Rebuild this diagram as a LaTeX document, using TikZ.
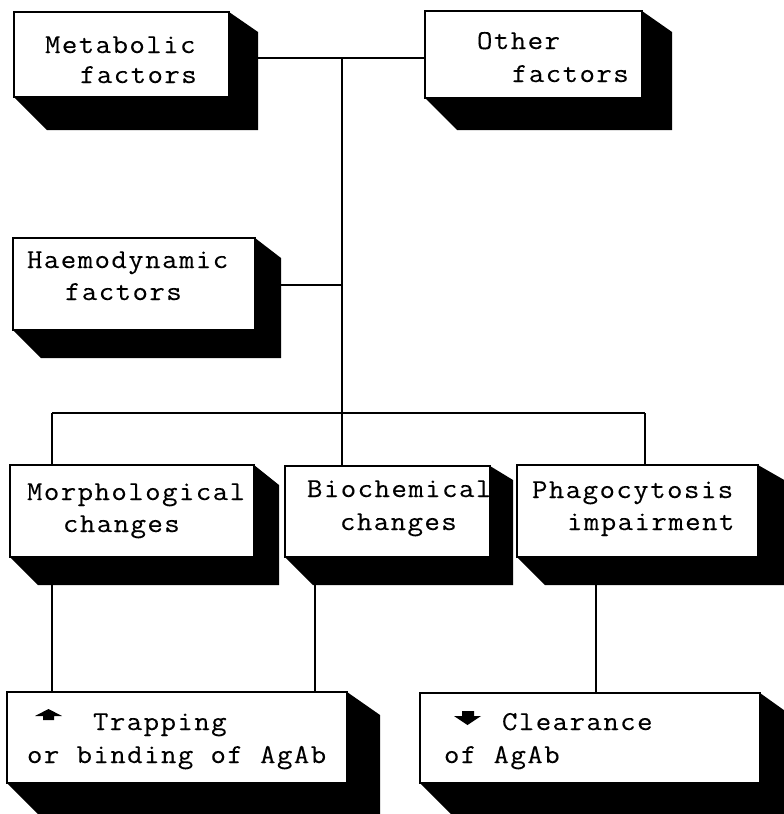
\documentclass[tikz,border=0pt]{standalone}
\usepackage{fontspec}
\setmonofont[FakeStretch=1.1,LetterSpace=5.2,FakeBold=0.2]{Latin Modern Mono}
\usetikzlibrary{calc,backgrounds}
\tikzset{
  fbox/.style={draw=black, fill=white, line width=2.4pt, anchor=north west, inner sep=0pt, outer sep=0pt},
  txt/.style={anchor=base west, inner sep=0pt, outer sep=0pt, font=\ttfamily\fontsize{27.3}{31}\selectfont},
  conn/.style={draw=black, line width=1.7pt},
  shade3d/.style={fill=black}
}
\newcommand\fbx[5]{\node[fbox, minimum width=#4pt, minimum height=#5pt] (#1) at (#2,#3) {};}
\newcommand\shd[4]{\fill[shade3d] (#1.south west) -- ++(#3,#3) -- ($(#1.south east)+(#2,#3)$) -- ($(#1.north east)+(#2,#4)$) -- (#1.north east) -- cycle;}
\newcommand\tsp{\hspace*{17.2pt}}
\begin{document}
\begin{tikzpicture}[x=1pt,y=-1pt]
\useasboundingbox (0,0) rectangle (784,814);
% front faces
\fbx{metab}{14}{12}{215}{85}
\fbx{other}{425}{11}{217}{87}
\fbx{haemo}{13}{238}{242}{92}
\fbx{morph}{10}{465}{244}{92}
\fbx{bio}{285}{466}{205}{91}
\fbx{phago}{517}{465}{241}{92}
\fbx{trap}{7}{692}{340}{91}
\fbx{clear}{420}{693}{340}{90}
% extrusions
\begin{scope}[on background layer]
\shd{metab}{29}{33}{20}
\shd{other}{30}{32}{21}
\shd{haemo}{26}{28}{20}
\shd{morph}{25}{28}{20}
\shd{bio}{23}{28}{14}
\shd{phago}{28}{28}{16}
\shd{trap}{33}{32}{23}
\shd{clear}{28}{32}{20}
\end{scope}
% connector points
\coordinate (j1) at (342,58);
\coordinate (j2) at (342,413);
\coordinate (j3) at (342,285);
\coordinate (b1) at (52,413);
\coordinate (b3) at (645,413);
\coordinate (x2) at (315,0);
\coordinate (x3) at (596,0);
\begin{scope}[on background layer]
\draw[conn] (metab.east |- j1) -- (other.west |- j1);
\draw[conn] (j1) -- (j2);
\draw[conn] (haemo.east |- j3) -- (j3);
\draw[conn] (b1) -- (b3);
\draw[conn] (b1) -- (b1 |- morph.north);
\draw[conn] (j2) -- (j2 |- bio.north);
\draw[conn] (b3) -- (b3 |- phago.north);
\draw[conn] (b1 |- morph.south) -- (b1 |- trap.north);
\draw[conn] (x2 |- bio.south) -- (x2 |- trap.north);
\draw[conn] (x3 |- phago.south) -- (x3 |- clear.north);
\end{scope}
% texts
\node[txt] (t1a) at (45,53) {Metabolic};
\node[txt] (t1b) at (80,83) {factors};
\node[txt] (t2a) at (477,49) {Other};
\node[txt] (t2b) at (512,82) {factors};
\node[txt] (t3a) at (27,268) {Haemodynamic};
\node[txt] (t3b) at (65,300) {factors};
\node[txt] (t4a) at (27,500) {Morphological};
\node[txt] (t4b) at (63,532) {changes};
\node[txt] (t5a) at (307,497) {Biochemical};
\node[txt] (t5b) at (340,530) {changes};
\node[txt] (t6a) at (532,498) {Phagocytosis};
\node[txt] (t6b) at (567,530) {impairment};
\node[txt] (t7a) at (93,730) {Trapping};
\node[txt] (t7b) at (27,763) {or\tsp binding\tsp of\tsp AgAb};
\node[txt] (t8a) at (502,730) {Clearance};
\node[txt] (t8b) at (444,763) {of\tsp AgAb};
% arrow symbols
\fill (48.5,709) -- (62,716) -- (54,716) -- (54,720) -- (43,720) -- (43,716) -- (35,716) -- cycle;
\fill (462,711) -- (474,711) -- (474,716) -- (481,716) -- (467.5,725) -- (454,716) -- (462,716) -- cycle;
\end{tikzpicture}
\end{document}
